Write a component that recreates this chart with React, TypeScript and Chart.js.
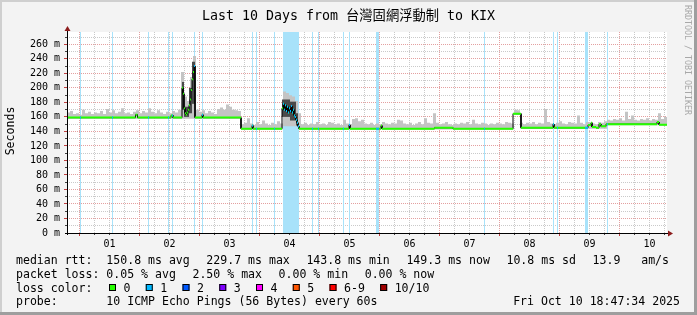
import React, { useEffect, useRef } from 'react';
import { Chart, registerables } from 'chart.js';

Chart.register(...registerables);

// ---------------- data ----------------
const chartTitle = 'Last 10 Days from 台灣固網浮動制 to KIX';
const yAxisTitle = 'Seconds';
const watermark = 'RRDTOOL / TOBI OETIKER';

// time axis: hours relative to Oct 01 00:00
const timeStartHour = -5;
const timeEndHour = 235;
const dayTickHours = [12, 36, 60, 84, 108, 132, 156, 180, 204, 228];
const dayTickLabels = ['01', '02', '03', '04', '05', '06', '07', '08', '09', '10'];

const rttMaxMs = 277;
const rttTickValues = [0, 20, 40, 60, 80, 100, 120, 140, 160, 180, 200, 220, 240, 260];

// smoke (max ping) per 1.2 h bin
const smokeStartHour = -5;
const smokeStepHours = 1.2;
const smokeHighMs = [
  166, 168, 164, 165, 163, 170, 165, 167, 164, 166,
  165, 168, 164, 171, 166, 169, 165, 167, 172, 165,
  166, 164, 167, 169, 165, 168, 166, 172, 167, 165,
  169, 166, 164, 167, 165, 168, 166, 170, 222, 188,
  182, 215, 244, 170, 167, 169, 165, 168, 166, 164,
  171, 173, 170, 177, 174, 170, 169, 168,
  150, 152, 158, 151, 149, 153, 150, 155, 151, 149, 152, 150, 154, 151,
  195, 193, 190, 188, 182, 165,
  150, 152, 149, 151, 150, 153, 150, 151, 149, 153,
  152, 150, 151, 149, 156, 151, 150, 157, 158, 154,
  156, 151, 150, 152, 149, 151, 150, 153, 151, 150,
  152, 151, 156, 155, 151, 150, 152, 149, 151, 153,
  150, 158, 152, 151, 165, 152, 150, 151, 153, 150,
  149, 151, 150, 152, 151, 153, 150, 156, 151, 150,
  152, 151, 149, 151, 150, 152, 151, 150, 153, 152,
  151,
  170, 169, 152,
  150, 152, 151, 153, 150, 152, 151, 171, 153, 151,
  150, 152, 154, 151, 150, 153, 152, 151, 162, 152,
  150, 153, 152, 151, 150, 153, 152, 154,
  156, 155, 157, 156, 158, 155, 167, 157, 162, 156,
  155, 157, 156, 158, 155, 157, 156, 165, 157, 160,
];
// smoke floor: [fromHour, toHour, ms]
const smokeLowMs: [number, number, number][] = [
  [-5, 64.6, 157.5], [64.6, 81.0, 142.5], [81.0, 87.4, 147], [87.4, 173.4, 142.5],
  [173.4, 176.6, 163], [176.6, 210.6, 143.5], [210.6, 235, 148.5],
];
// dense smoke core in the spikes: [fromHour, toHour, lowMs, highMs]
const smokeCoreMs: [number, number, number, number][] = [
  [41.0, 41.8, 170, 208], [41.8, 43.8, 160, 174], [43.8, 45.0, 165, 200], [45.0, 46.2, 178, 236],
  [81.0, 84.2, 160, 184], [84.2, 86.6, 155, 181], [86.6, 87.4, 148, 165],
];
// median rtt: [startHour, ms]
const medianStepsMs: [number, number][] = [
  [-5.0, 159], [22.4, 163], [23.2, 159], [36.6, 162], [37.4, 159],
  [41.0, 200], [41.4, 192], [41.8, 172], [42.2, 165], [42.6, 163], [43.0, 166], [43.4, 170],
  [43.8, 176], [44.2, 184], [44.6, 197], [45.0, 212], [45.4, 222], [45.8, 230], [46.2, 159],
  [49.0, 163], [49.4, 159],
  [64.6, 143.8], [69.0, 148], [69.4, 143.8],
  [81.0, 172], [81.4, 178], [81.8, 170], [82.2, 176], [82.6, 168], [83.0, 174], [83.4, 166],
  [83.8, 172], [84.2, 168], [84.6, 175], [85.0, 166], [85.4, 170], [85.8, 162], [86.2, 160],
  [86.6, 156], [87.0, 152], [87.4, 147], [87.8, 143.8],
  [107.8, 149], [108.2, 143.8], [120.6, 148], [121.0, 143.8],
  [142.0, 145], [149.4, 143.8],
  [173.4, 164.5], [176.6, 145],
  [189.4, 150], [189.8, 145],
  [203.4, 149], [204.6, 152], [205.0, 146], [206.6, 145], [207.8, 150], [208.6, 147], [210.6, 150],
  [231.0, 153], [231.8, 149.3],
];
// intervals with 1 of 10 pings lost: [fromHour, toHour]
const lossEventHours: [number, number][] = [
  [0.2, 0.6], [13.0, 13.4], [27.4, 27.8], [35.4, 35.8], [37.0, 37.4], [45.8, 46.2], [49.0, 49.4],
  [69.0, 69.4], [70.6, 71.0], [77.8, 78.2], [81.4, 87.8], [93.0, 93.4], [95.4, 95.8],
  [105.4, 105.8], [107.8, 108.2], [118.6, 119.8], [161.8, 162.2], [189.4, 189.8], [191.0, 191.4],
  [202.2, 203.4], [211.0, 211.4],
];

const medianRttValues = [150.8, 229.7, 143.8, 149.3];
const medianRttNames = ['avg', 'max', 'min', 'now'];
const rttSdMs = 10.8;
const rttAmPerS = 13.9;
const packetLossValues = [0.05, 2.5, 0.0, 0.0];
const lossColorLabels = ['0', '1', '2', '3', '4', '5', '6-9', '10/10'];
const lossColorValues = ['#26ff00', '#00b8ff', '#0059ff', '#7e00ff', '#ff00ff', '#ff5500', '#ff0000', '#a10000'];
const probeText = '10 ICMP Echo Pings (56 Bytes) every 60s';
const timestampText = 'Fri Oct 10 18:47:34 2025';

// ---------------- styling ----------------
const MONO = "'DejaVu Sans Mono', 'Noto Sans CJK TC', 'Noto Sans CJK SC', monospace";
const BACK = '#f3f3f3';
const MAJOR_GRID = '#e4a0a0';
const MINOR_GRID = '#cacaca';
const ARROW = '#8c1c1c';
const LOSS_BAR = '#a8e2fa';
const SMOKE = '#c4c4c4';
const SMOKE_CORE = '#4a4a4a';

type P = { x: number; y: number | null };

function segValue(segs: [number, number, number][], h: number): number {
  for (const s of segs) if (h >= s[0] && h < s[1]) return s[2];
  return segs[segs.length - 1][2];
}

function buildData() {
  const smokeTop: P[] = [];
  const smokeLow: P[] = [];
  smokeHighMs.forEach((hi, i) => {
    const t0 = smokeStartHour + i * smokeStepHours;
    const t1 = t0 + smokeStepHours;
    const lo = segValue(smokeLowMs, t0 + smokeStepHours / 2);
    smokeTop.push({ x: t0, y: hi }, { x: t1, y: hi });
    smokeLow.push({ x: t0, y: lo }, { x: t1, y: lo });
  });
  const coreTop: P[] = [];
  const coreLow: P[] = [];
  smokeCoreMs.forEach(([a, b, lo, hi]) => {
    coreTop.push({ x: a, y: hi }, { x: b, y: hi }, { x: b, y: null });
    coreLow.push({ x: a, y: lo }, { x: b, y: lo }, { x: b, y: null });
  });
  const steps = medianStepsMs.map(([h, v], k) => ({
    a: h,
    b: k + 1 < medianStepsMs.length ? medianStepsMs[k + 1][0] : timeEndHour,
    v,
  }));
  const black: P[] = [];
  const green: P[] = [];
  steps.forEach((s) => {
    black.push({ x: s.a, y: s.v }, { x: s.b, y: s.v });
    green.push({ x: s.a, y: s.v }, { x: s.b, y: s.v }, { x: s.b, y: null });
  });
  const blue: P[] = [];
  const loss: P[] = [];
  lossEventHours.forEach(([a, b]) => {
    loss.push({ x: a, y: rttMaxMs }, { x: b, y: rttMaxMs }, { x: b, y: null });
    steps.forEach((s) => {
      const lo = Math.max(a, s.a);
      const hi = Math.min(b, s.b);
      if (hi > lo) blue.push({ x: lo, y: s.v }, { x: hi, y: s.v }, { x: hi, y: null });
    });
  });
  return { smokeTop, smokeLow, coreTop, coreLow, black, green, blue, loss };
}

const rrdPlugin = {
  id: 'rrdLook',
  beforeDraw(chart: any) {
    const { ctx, width, height, chartArea: a } = chart;
    ctx.save();
    ctx.fillStyle = BACK;
    ctx.fillRect(0, 0, width, height);
    ctx.fillStyle = '#cfcfcf';
    ctx.fillRect(0, 0, width, 2);
    ctx.fillRect(0, 0, 2, height);
    ctx.fillStyle = '#9e9e9e';
    ctx.fillRect(0, height - 3, width, 3);
    ctx.fillRect(width - 3, 0, 3, height);
    ctx.fillStyle = '#ffffff';
    ctx.fillRect(a.left, a.top, a.right - a.left, a.bottom - a.top);
    ctx.restore();
  },
  beforeDatasetsDraw(chart: any) {
    const { ctx, chartArea: a } = chart;
    const xs = chart.scales.x;
    const ys = chart.scales.y;
    ctx.save();
    ctx.lineWidth = 1;
    ctx.setLineDash([1, 1]);
    for (let h = Math.ceil(timeStartHour / 6) * 6; h < timeEndHour; h += 6) {
      if (h <= timeStartHour) continue;
      const px = Math.floor(xs.getPixelForValue(h)) + 0.5;
      ctx.strokeStyle = h % 24 === 0 ? MAJOR_GRID : MINOR_GRID;
      ctx.beginPath();
      ctx.moveTo(px, a.top);
      ctx.lineTo(px, a.bottom);
      ctx.stroke();
    }
    for (let v = 10; v < rttMaxMs; v += 10) {
      const py = Math.floor(ys.getPixelForValue(v)) + 0.5;
      ctx.strokeStyle = v % 20 === 0 ? MAJOR_GRID : MINOR_GRID;
      ctx.beginPath();
      ctx.moveTo(a.left, py);
      ctx.lineTo(a.right, py);
      ctx.stroke();
    }
    ctx.restore();
  },
  afterDatasetsDraw(chart: any) {
    const { ctx, chartArea: a } = chart;
    const xs = chart.scales.x;
    const ys = chart.scales.y;
    ctx.save();
    ctx.setLineDash([]);
    ctx.lineWidth = 1;
    // tick marks
    for (let h = 0; h < timeEndHour; h += 6) {
      const px = Math.floor(xs.getPixelForValue(h)) + 0.5;
      const major = h % 24 === 0;
      ctx.strokeStyle = major ? '#c04040' : '#444';
      ctx.beginPath();
      ctx.moveTo(px, a.bottom);
      ctx.lineTo(px, a.bottom + (major ? 3 : 2));
      ctx.stroke();
    }
    for (let v = 10; v < rttMaxMs; v += 10) {
      const py = Math.floor(ys.getPixelForValue(v)) + 0.5;
      const major = v % 20 === 0;
      ctx.strokeStyle = major ? '#c04040' : '#444';
      ctx.beginPath();
      ctx.moveTo(a.left - (major ? 3 : 2), py);
      ctx.lineTo(a.left, py);
      ctx.stroke();
    }
    // axes
    ctx.strokeStyle = '#000';
    ctx.beginPath();
    ctx.moveTo(a.left - 2, a.bottom + 0.5);
    ctx.lineTo(a.right + 2, a.bottom + 0.5);
    ctx.moveTo(a.left + 0.5, a.bottom + 2);
    ctx.lineTo(a.left + 0.5, a.top - 2);
    ctx.stroke();
    // arrows
    ctx.fillStyle = ARROW;
    ctx.beginPath();
    ctx.moveTo(a.left + 0.5 - 3, a.top - 1);
    ctx.lineTo(a.left + 0.5 + 3, a.top - 1);
    ctx.lineTo(a.left + 0.5, a.top - 6);
    ctx.closePath();
    ctx.fill();
    ctx.beginPath();
    ctx.moveTo(a.right + 1, a.bottom + 0.5 - 3);
    ctx.lineTo(a.right + 1, a.bottom + 0.5 + 3);
    ctx.lineTo(a.right + 6, a.bottom + 0.5);
    ctx.closePath();
    ctx.fill();
    ctx.restore();
  },
  afterDraw(chart: any) {
    const { ctx, width } = chart;
    ctx.save();
    ctx.fillStyle = '#000';
    // title
    ctx.font = `13.3px ${MONO}`;
    ctx.textAlign = 'center';
    ctx.textBaseline = 'alphabetic';
    ctx.fillText(chartTitle, width / 2, 19.5);
    // y axis title
    ctx.save();
    ctx.font = `11.55px ${MONO}`;
    ctx.translate(11, 131);
    ctx.rotate(-Math.PI / 2);
    ctx.textAlign = 'center';
    ctx.textBaseline = 'middle';
    ctx.fillText(yAxisTitle, 0, 0);
    ctx.restore();
    // watermark
    ctx.save();
    ctx.font = `8.3px ${MONO}`;
    ctx.fillStyle = '#a8a8a8';
    ctx.translate(687.5, 5);
    ctx.rotate(Math.PI / 2);
    ctx.textAlign = 'left';
    ctx.textBaseline = 'middle';
    ctx.fillText(watermark, 0, 0);
    ctx.restore();
    // legend
    ctx.font = `11.55px ${MONO}`;
    ctx.textAlign = 'left';
    ctx.textBaseline = 'alphabetic';
    const labelX = 16;
    const valueX = 106.35;
    const glue = 16.6;
    const rows = [263.5, 277.5, 291.5, 305.3];
    const row = (y: number, label: string, items: string[]) => {
      ctx.fillText(label, labelX, y);
      let x = valueX;
      items.forEach((t) => {
        ctx.fillText(t, x, y);
        x += ctx.measureText(t).width + glue;
      });
    };
    row(rows[0], 'median rtt:', [
      ...medianRttValues.map((v, i) => `${v.toFixed(1)} ms ${medianRttNames[i]}`),
      `${rttSdMs.toFixed(1)} ms sd`,
      `${rttAmPerS.toFixed(1)}   am/s`,
    ]);
    row(rows[1], 'packet loss:', packetLossValues.map((v, i) => `${v.toFixed(2)} % ${medianRttNames[i]}`));
    ctx.fillText('loss color:', labelX, rows[2]);
    let bx = 109;
    lossColorLabels.forEach((lab, i) => {
      ctx.fillStyle = lossColorValues[i];
      ctx.fillRect(bx, 284, 7, 7);
      ctx.strokeStyle = '#000';
      ctx.lineWidth = 1;
      ctx.strokeRect(bx + 0.5, 284.5, 6, 6);
      ctx.fillStyle = '#000';
      ctx.fillText(lab, bx + 14.5, rows[2]);
      bx += 14.5 + ctx.measureText(lab).width + 15.3;
    });
    ctx.fillText('probe:', labelX, rows[3]);
    ctx.fillText(probeText, valueX, rows[3]);
    ctx.textAlign = 'right';
    ctx.fillText(timestampText, 680, rows[3]);
    ctx.restore();
  },
};

export default function App() {
  const ref = useRef<HTMLCanvasElement>(null);
  useEffect(() => {
    const d = buildData();
    const none = 'rgba(0,0,0,0)';
    const chart = new Chart(ref.current as HTMLCanvasElement, {
      type: 'line',
      data: {
        datasets: [
          { label: 'median (1 lost)', data: d.blue, borderColor: lossColorValues[1], borderWidth: 2, fill: false } as any,
          { label: 'median (0 lost)', data: d.green, borderColor: lossColorValues[0], borderWidth: 2, fill: false } as any,
          { label: 'median', data: d.black, borderColor: '#000', borderWidth: 1, fill: false } as any,
          { label: 'smoke core', data: d.coreTop, borderColor: none, borderWidth: 0, backgroundColor: SMOKE_CORE, fill: '+1' } as any,
          { label: 'smoke core low', data: d.coreLow, borderColor: none, borderWidth: 0, fill: false } as any,
          { label: 'smoke', data: d.smokeTop, borderColor: none, borderWidth: 0, backgroundColor: SMOKE, fill: '+1' } as any,
          { label: 'smoke low', data: d.smokeLow, borderColor: none, borderWidth: 0, fill: false } as any,
          { label: 'loss', data: d.loss, borderColor: none, borderWidth: 0, backgroundColor: LOSS_BAR, fill: 'origin' } as any,
        ],
      },
      options: {
        responsive: false,
        animation: false,
        devicePixelRatio: 1,
        events: [],
        spanGaps: false,
        layout: { padding: { left: 0, right: 30, top: 32, bottom: 0 } },
        elements: { point: { radius: 0, hoverRadius: 0 }, line: { tension: 0 } },
        plugins: { legend: { display: false }, tooltip: { enabled: false }, title: { display: false } },
        scales: {
          x: {
            type: 'linear',
            min: timeStartHour,
            max: timeEndHour,
            grid: { display: false, drawTicks: false },
            border: { display: false },
            ticks: {
              autoSkip: false,
              maxRotation: 0,
              minRotation: 0,
              padding: 5,
              color: '#000',
              font: { family: MONO, size: 10 },
              callback: (_v: any, i: number) => dayTickLabels[i],
            },
            afterBuildTicks: (s: any) => {
              s.ticks = dayTickHours.map((v) => ({ value: v }));
            },
            afterFit: (s: any) => {
              s.height = 82;
            },
          },
          y: {
            type: 'linear',
            min: 0,
            max: rttMaxMs,
            grid: { display: false, drawTicks: false },
            border: { display: false },
            ticks: {
              padding: 7,
              color: '#000',
              font: { family: MONO, size: 10 },
              callback: (v: any) => `${v} m`,
            },
            afterBuildTicks: (s: any) => {
              s.ticks = rttTickValues.map((v) => ({ value: v }));
            },
            afterFit: (s: any) => {
              s.width = 67;
            },
          },
        },
      } as any,
      plugins: [rrdPlugin],
    });
    return () => chart.destroy();
  }, []);
  return (
    <div style={{ position: 'absolute', left: 0, top: 0, width: 697, height: 315 }}>
      <canvas ref={ref} width={697} height={315} style={{ display: 'block', width: 697, height: 315 }} />
    </div>
  );
}
